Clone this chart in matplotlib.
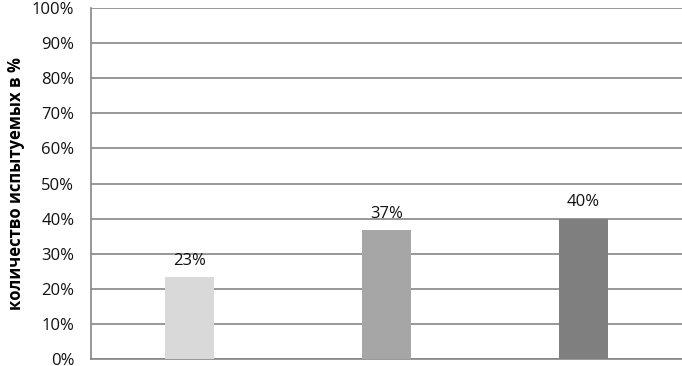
import numpy as np
import matplotlib.pyplot as plt

plt.rcParams['font.family'] = ['Open Sans', 'DejaVu Sans']

# данные: доля испытуемых (из 30 человек)
categories = ['1', '2', '3']
values = [7 / 30 * 100, 11 / 30 * 100, 12 / 30 * 100]
bar_labels = ['23%', '37%', '40%']
colors = ['#d9d9d9', '#a6a6a6', '#7f7f7f']
yticks = np.arange(0, 101, 10)

fig = plt.figure(figsize=(6.82, 3.66), dpi=100)
ax = fig.add_axes([91 / 682, 7 / 366, 1 - 91 / 682, 351 / 366])

x = np.arange(len(categories))
bars = ax.bar(x, values, width=0.25, color=colors, zorder=3)

for b, lab in zip(bars, bar_labels):
    ax.annotate(lab, (b.get_x() + b.get_width() / 2, b.get_height()),
                xytext=(0, 6), textcoords='offset points',
                ha='center', va='bottom', fontsize=12, color='#111111')

ax.set_xlim(-0.5, 2.5)
ax.set_ylim(0, 100)
ax.set_yticks(yticks)
ax.set_yticklabels([f'{t}%' for t in yticks], fontsize=12, color='#111111')
ax.set_xticks([])
ax.tick_params(axis='y', length=0, pad=12)
ax.grid(axis='y', color='#868686', linewidth=1.2, zorder=0)

for s in ['top', 'right']:
    ax.spines[s].set_visible(False)
ax.spines['left'].set_color('#868686')
ax.spines['bottom'].set_color('#868686')
ax.spines['left'].set_linewidth(1.2)
ax.spines['bottom'].set_linewidth(1.2)

ax.set_ylabel('количество испытуемых в %', fontsize=12, fontweight='bold', labelpad=5)

fig.savefig('out.png', dpi=100)
